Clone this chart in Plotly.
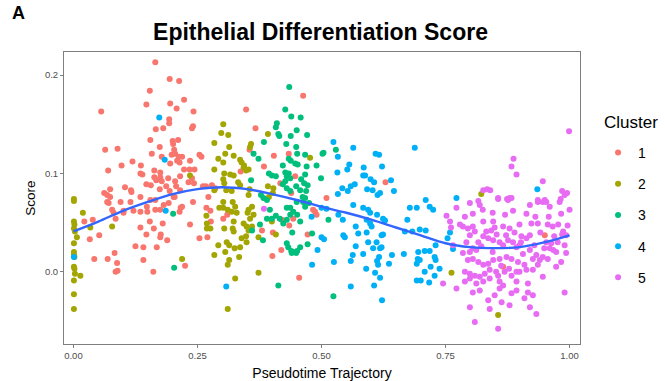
import plotly.graph_objects as go

# Cluster colours (ggplot2 default hue palette, 5 levels)
cluster_names = ["1", "2", "3", "4", "5"]
cluster_colors = ["#F8766D", "#A3A500", "#00BF7D", "#00B0F6", "#E76BF3"]

# Cluster 1
c1_x = [0.165, 0.194, 0.213, 0.154, 0.223, 0.147, 0.195, 0.208, 0.056, 0.242, 0.193, 0.193, 0.166, 0.181, 0.241,
        0.239, 0.155, 0.200, 0.211, 0.201, 0.174, 0.064, 0.089, 0.203, 0.205, 0.198, 0.212, 0.158, 0.178, 0.219,
        0.119, 0.097, 0.136, 0.209, 0.214, 0.235, 0.195, 0.070, 0.135, 0.139, 0.163, 0.175, 0.215, 0.223, 0.234,
        0.163, 0.175, 0.167, 0.178, 0.191, 0.147, 0.156, 0.104, 0.116, 0.117, 0.074, 0.062, 0.068, 0.174, 0.187,
        0.205, 0.207, 0.194, 0.202, 0.232, 0.215,
        0.022, 0.039, 0.033, 0.052, 0.042, 0.069, 0.083, 0.088, 0.085, 0.089, 0.141, 0.161, 0.125, 0.141, 0.168,
        0.135, 0.147, 0.162, 0.176, 0.175, 0.189, 0.180, 0.154, 0.225, 0.235, 0.214, 0.216, 0.219, 0.192, 0.182,
        0.175, 0.165, 0.148, 0.149, 0.135, 0.121, 0.101, 0.101, 0.081, 0.085, 0.078, 0.071, 0.068, 0.095, 0.115,
        0.135, 0.155, 0.165, 0.204, 0.074,
        0.463, 0.348, 0.367, 0.355, 0.404, 0.434, 0.254, 0.258, 0.384, 0.337, 0.244, 0.239, 0.447, 0.417, 0.261,
        0.267, 0.279, 0.286, 0.272, 0.439, 0.243,
        0.268, 0.276, 0.241, 0.277, 0.302, 0.310, 0.254, 0.270, 0.380, 0.402, 0.420, 0.435, 0.443, 0.419, 0.401,
        0.472, 0.487, 0.490, 0.483, 0.455, 0.629, 0.510, 0.950, 0.866]
c1_y = [0.213, 0.196, 0.194, 0.184, 0.175, 0.170, 0.171, 0.166, 0.163, 0.163, 0.155, 0.151, 0.145, 0.146, 0.148,
        0.146, 0.134, 0.133, 0.134, 0.130, 0.127, 0.124, 0.125, 0.124, 0.120, 0.119, 0.117, 0.120, 0.117, 0.117,
        0.112, 0.108, 0.108, 0.113, 0.111, 0.113, 0.110, 0.103, 0.100, 0.099, 0.103, 0.101, 0.097, 0.104, 0.104,
        0.096, 0.096, 0.093, 0.092, 0.095, 0.089, 0.088, 0.086, 0.083, 0.081, 0.084, 0.080, 0.078, 0.084, 0.087,
        0.092, 0.087, 0.082, 0.076, 0.091, 0.083,
        0.051, 0.053, 0.033, 0.037, 0.013, 0.013, 0.019, 0.009, 0.000, 0.001, 0.012, 0.000, 0.026, 0.025, 0.025,
        0.045, 0.038, 0.044, 0.038, 0.035, 0.032, 0.049, 0.051, 0.006, 0.048, 0.061, 0.065, 0.066, 0.070, 0.068,
        0.063, 0.063, 0.066, 0.061, 0.061, 0.062, 0.062, 0.060, 0.060, 0.054, 0.063, 0.070, 0.071, 0.071, 0.071,
        0.076, 0.073, 0.073, 0.076, 0.076,
        0.179, 0.165, 0.146, 0.124, 0.118, 0.120, 0.119, 0.117, 0.107, 0.102, 0.104, 0.095, 0.097, 0.090, 0.087,
        0.087, 0.088, 0.085, 0.076, 0.080, 0.090,
        0.065, 0.062, 0.071, 0.051, 0.054, 0.058, 0.034, 0.035, 0.042, 0.040, 0.053, 0.047, 0.054, 0.022, 0.016,
        0.038, 0.061, 0.058, 0.063, -0.006, 0.091, 0.075, 0.037, 0.005]

# Cluster 2
c2_x = [0.001, 0.235,
        0.001, 0.019, 0.001, 0.002, 0.001, 0.003, 0.034, 0.078, 0.007, 0.001, 0.001, 0.001, 0.002, 0.001, 0.002,
        0.003, 0.014, 0.001, 0.001, 0.001, 0.219,
        0.302, 0.298, 0.312, 0.392, 0.284, 0.314, 0.358, 0.356, 0.477, 0.306, 0.323, 0.292, 0.302, 0.336, 0.339,
        0.344, 0.353, 0.348, 0.343, 0.284, 0.304, 0.316, 0.323, 0.302, 0.304, 0.332, 0.336, 0.392, 0.403, 0.402,
        0.394, 0.284, 0.308, 0.319, 0.355, 0.353,
        0.302, 0.321, 0.302, 0.294, 0.311, 0.319, 0.329, 0.326, 0.268, 0.269, 0.276, 0.269, 0.323, 0.304, 0.321,
        0.323, 0.343, 0.349, 0.353, 0.360, 0.356, 0.351, 0.363, 0.360, 0.353, 0.292, 0.309, 0.314, 0.325, 0.336,
        0.339, 0.348, 0.349, 0.373, 0.284, 0.306, 0.314, 0.311, 0.334, 0.326, 0.373, 0.311, 0.400, 0.408,
        0.762, 0.822, 0.856]
c2_y = [0.074, 0.098,
        0.072, 0.060, 0.051, 0.048, 0.044, 0.041, 0.045, 0.046, 0.035, 0.029, 0.020, 0.017, 0.015, 0.005, 0.003,
        -0.002, -0.004, -0.009, -0.023, -0.038, 0.013,
        0.150, 0.141, 0.139, 0.140, 0.131, 0.127, 0.130, 0.127, 0.116, 0.120, 0.118, 0.115, 0.111, 0.114, 0.111,
        0.108, 0.104, 0.103, 0.106, 0.104, 0.100, 0.099, 0.098, 0.094, 0.090, 0.091, 0.088, 0.087, 0.085, 0.080,
        0.076, 0.083, 0.083, 0.082, 0.084, 0.078,
        0.071, 0.071, 0.065, 0.065, 0.063, 0.061, 0.060, 0.066, 0.057, 0.049, 0.044, 0.044, 0.051, 0.044, 0.044,
        0.041, 0.049, 0.046, 0.042, 0.046, 0.054, 0.060, 0.058, 0.066, 0.063, 0.027, 0.030, 0.027, 0.024, 0.025,
        0.034, 0.036, 0.030, 0.035, 0.017, 0.020, 0.012, 0.007, 0.015, -0.007, -0.001, -0.038, 0.051, 0.038,
        -0.001, 0.079, -0.044]

# Cluster 3
c3_x = [0.201, 0.203,
        0.435, 0.427, 0.439, 0.458, 0.410, 0.408, 0.413, 0.415, 0.450, 0.438, 0.471, 0.384, 0.429, 0.449, 0.363,
        0.373, 0.451, 0.467, 0.502, 0.434, 0.438, 0.447, 0.452, 0.422, 0.470, 0.490, 0.394, 0.400, 0.408, 0.427,
        0.434, 0.430, 0.437, 0.427, 0.422, 0.459, 0.467, 0.499, 0.358, 0.378, 0.383, 0.430, 0.437, 0.449, 0.457,
        0.469, 0.465, 0.472, 0.462, 0.467,
        0.390, 0.396, 0.390, 0.400, 0.408, 0.416, 0.423, 0.430, 0.437, 0.443, 0.451, 0.430, 0.437, 0.450, 0.463,
        0.467, 0.475, 0.376, 0.382, 0.360, 0.441, 0.457, 0.430, 0.433, 0.439, 0.443, 0.451, 0.457, 0.449, 0.440,
        0.472, 0.481, 0.413,
        0.504, 0.529, 0.514, 0.524]
c3_y = [0.059, 0.004,
        0.188, 0.165, 0.158, 0.157, 0.151, 0.147, 0.140, 0.138, 0.144, 0.138, 0.139, 0.132, 0.130, 0.127, 0.120,
        0.115, 0.120, 0.119, 0.120, 0.115, 0.113, 0.110, 0.109, 0.108, 0.107, 0.108, 0.100, 0.098, 0.097, 0.101,
        0.100, 0.097, 0.095, 0.092, 0.089, 0.094, 0.099, 0.095, 0.093, 0.078, 0.075, 0.085, 0.082, 0.087, 0.083,
        0.082, 0.090, 0.088, 0.076, 0.075,
        0.073, 0.063, 0.054, 0.054, 0.057, 0.054, 0.049, 0.053, 0.058, 0.061, 0.058, 0.065, 0.065, 0.071, 0.071,
        0.066, 0.070, 0.048, 0.032, 0.042, 0.040, 0.051, 0.029, 0.025, 0.021, 0.020, 0.021, 0.025, 0.019, 0.019,
        0.028, 0.039, -0.014,
        0.121, 0.124, 0.053, -0.025]

# Cluster 4
c4_x = [0.173, 0.184, 0.186, 0.001, 0.308, 0.481, 0.492, 0.500, 0.500, 0.480,
        0.524, 0.688, 0.564, 0.533, 0.609, 0.616, 0.556, 0.552, 0.585, 0.622, 0.532, 0.584, 0.588, 0.599, 0.606,
        0.640, 0.567, 0.559, 0.542, 0.553, 0.592, 0.603, 0.646, 0.533, 0.613, 0.618, 0.710,
        0.510, 0.534, 0.543, 0.564, 0.584, 0.594, 0.598, 0.591, 0.598, 0.601, 0.612, 0.624, 0.628, 0.505, 0.544,
        0.547, 0.569, 0.574, 0.591, 0.594, 0.611, 0.621, 0.624, 0.569, 0.604, 0.618, 0.621, 0.563, 0.584, 0.642,
        0.666, 0.616, 0.612, 0.614, 0.636, 0.525, 0.559, 0.590, 0.608, 0.618, 0.559, 0.606, 0.622,
        0.678, 0.692, 0.718, 0.725, 0.673, 0.668, 0.683, 0.698, 0.710, 0.730, 0.754, 0.759, 0.695, 0.708, 0.718,
        0.694, 0.692, 0.698, 0.720, 0.728, 0.730, 0.738, 0.728, 0.708, 0.692, 0.700, 0.717, 0.765, 0.935, 0.772]
c4_y = [0.157, 0.114, 0.062, 0.015, -0.015, 0.007, 0.022, 0.035, 0.065, 0.056,
        0.132, 0.126, 0.126, 0.117, 0.120, 0.119, 0.109, 0.104, 0.106, 0.107, 0.101, 0.098, 0.098, 0.094, 0.091,
        0.093, 0.089, 0.087, 0.085, 0.082, 0.084, 0.083, 0.082, 0.079, 0.078, 0.080, 0.073,
        0.064, 0.058, 0.053, 0.068, 0.065, 0.063, 0.060, 0.053, 0.049, 0.046, 0.058, 0.054, 0.052, 0.033, 0.037,
        0.035, 0.046, 0.039, 0.040, 0.030, 0.030, 0.037, 0.038, 0.026, 0.024, 0.024, 0.025, 0.017, 0.018, 0.017,
        0.018, 0.015, 0.011, 0.007, 0.008, 0.010, 0.011, 0.003, -0.001, -0.006, -0.015, -0.014, -0.029,
        0.065, 0.065, 0.066, 0.063, 0.053, 0.041, 0.041, 0.043, 0.042, 0.027, 0.034, 0.040, 0.020, 0.021, 0.021,
        0.013, 0.008, 0.012, 0.005, 0.015, 0.012, 0.003, -0.004, 0.000, -0.009, -0.009, -0.011, 0.023, 0.084, 0.075]

# Cluster 5
c5_x = [0.999, 0.887, 0.883, 0.893, 0.946, 0.826, 0.834, 0.840, 0.856, 0.879, 0.874, 0.936, 0.950, 0.985, 0.995,
        0.982, 0.384, 0.752, 0.759, 0.761, 0.745, 0.765,
        0.772, 0.799, 0.819, 0.816, 0.856, 0.876, 0.883, 0.936, 0.946, 0.953, 0.980, 0.990, 1.000, 0.983, 0.960,
        0.920, 0.913, 0.886, 0.846, 0.826, 0.805, 0.789, 0.785, 0.795, 0.805, 0.799, 0.809, 0.832, 0.842, 0.849,
        0.866, 0.879, 0.899, 0.923, 0.936, 0.956, 0.966, 0.977, 0.987, 0.993, 0.953, 0.963, 0.960, 0.967, 0.973,
        0.990, 0.993, 0.983, 0.973, 0.956, 0.946, 0.933, 0.926, 0.920, 0.899, 0.893, 0.913, 0.920, 0.903, 0.886,
        0.876, 0.866, 0.859, 0.846, 0.836, 0.826, 0.816, 0.805, 0.799, 0.785, 0.795, 0.805, 0.816, 0.826, 0.836,
        0.846, 0.859, 0.873, 0.883, 0.896, 0.909, 0.926, 0.936, 0.913, 0.899, 0.893, 0.883, 0.869, 0.852, 0.839,
        0.829, 0.819, 0.809, 0.799, 0.789, 0.789, 0.799, 0.812, 0.826, 0.839, 0.856, 0.859, 0.866, 0.859, 0.849,
        0.836, 0.819, 0.805, 0.799, 0.809, 0.839, 0.863, 0.883, 0.893, 0.893, 0.916, 0.916, 0.926, 0.909, 0.920,
        0.933, 0.946, 0.990, 0.856, 0.772, 0.879,
        0.779, 0.792, 0.812, 0.822, 0.845, 0.853, 0.872, 0.889, 0.906, 0.929, 0.941, 0.949, 0.969, 0.976, 0.996,
        0.862, 0.878, 0.902, 0.931, 0.958, 0.870, 0.845, 0.825, 0.940, 0.985]
c5_y = [0.143, 0.115, 0.107, 0.099, 0.092, 0.083, 0.084, 0.083, 0.075, 0.075, 0.074, 0.073, 0.073, 0.082, 0.080,
        0.074, 0.064, 0.057, 0.051, 0.045, -0.012, 0.027,
        0.065, 0.070, 0.068, 0.072, 0.074, 0.073, 0.075, 0.071, 0.071, 0.071, 0.071, 0.078, 0.063, 0.059, 0.066,
        0.068, 0.059, 0.062, 0.051, 0.051, 0.059, 0.056, 0.046, 0.044, 0.046, 0.037, 0.041, 0.041, 0.042, 0.045,
        0.046, 0.044, 0.048, 0.049, 0.049, 0.048, 0.046, 0.048, 0.041, 0.037, 0.030, 0.029, 0.024, 0.022, 0.020,
        0.027, 0.019, 0.010, 0.005, 0.013, 0.015, 0.017, 0.013, 0.022, 0.027, 0.025, 0.034, 0.037, 0.036, 0.030,
        0.032, 0.027, 0.030, 0.032, 0.034, 0.036, 0.030, 0.024, 0.020, 0.019, 0.012, 0.013, 0.010, 0.007, 0.008,
        0.012, 0.013, 0.015, 0.013, 0.010, 0.007, 0.002, 0.007, 0.002, 0.000, 0.000, -0.004, 0.000, 0.000, 0.002,
        -0.002, -0.005, -0.004, -0.002, 0.000, -0.010, -0.007, -0.012, -0.010, -0.007, -0.004, -0.010, -0.014, -0.017, -0.024,
        -0.029, -0.019, -0.021, -0.036, -0.051, -0.038, -0.031, -0.022, -0.019, -0.010, -0.012, -0.021, -0.024, -0.027, -0.036,
        -0.043, -0.005, -0.021, -0.058, -0.017, -0.034,
        0.048, 0.030, 0.022, 0.026, 0.020, 0.038, 0.037, 0.040, 0.018, 0.027, 0.040, 0.024, 0.036, 0.030, 0.047,
        0.006, 0.003, 0.030, 0.056, 0.056, 0.058, 0.060, 0.063, 0.012, 0.038]

# Smoothed trend along pseudotime
trend_x = [0.00, 0.05, 0.10, 0.15, 0.20, 0.25, 0.30, 0.35, 0.40, 0.45, 0.50,
           0.55, 0.60, 0.65, 0.70, 0.75, 0.80, 0.85, 0.90, 0.95, 1.00]
trend_y = [0.041, 0.051, 0.062, 0.071, 0.079, 0.084, 0.086, 0.084, 0.079, 0.073, 0.066,
           0.060, 0.053, 0.045, 0.037, 0.029, 0.025, 0.024, 0.025, 0.030, 0.037]

x_ticks = [0.0, 0.25, 0.5, 0.75, 1.0]
x_tick_labels = ["0.00", "0.25", "0.50", "0.75", "1.00"]
y_ticks = [0.0, 0.1, 0.2]
y_tick_labels = ["0.0", "0.1", "0.2"]

FONT = "Liberation Sans, Arial, Helvetica, sans-serif"

fig = go.Figure()

series = [(c1_x, c1_y), (c2_x, c2_y), (c3_x, c3_y), (c4_x, c4_y), (c5_x, c5_y)]
for name, color, (xs, ys) in zip(cluster_names, cluster_colors, series):
    fig.add_trace(go.Scatter(
        x=xs, y=ys, mode="markers", name=name, legendgroup=name,
        marker=dict(color=color, size=6, line=dict(width=0)),
    ))

fig.add_trace(go.Scatter(
    x=trend_x, y=trend_y, mode="lines", showlegend=False,
    line=dict(color="#3366FF", width=2.4, shape="spline", smoothing=1.0),
    hoverinfo="skip",
))

fig.update_layout(
    width=665, height=381,
    margin=dict(l=64, r=85, t=52, b=37),
    paper_bgcolor="white", plot_bgcolor="white",
    font=dict(family=FONT, color="black"),
    title=dict(text="<b>Epithelial Differentiation Score</b>", x=0.482, xanchor="center",
               y=0.916, yanchor="middle", font=dict(size=23, color="black")),
    legend=dict(
        x=1.035, xanchor="left", y=0.709, yanchor="top",
        font=dict(size=14), tracegroupgap=10, itemsizing="trace",
        bgcolor="rgba(0,0,0,0)",
    ),
    annotations=[
        dict(text="<b>A</b>", xref="paper", yref="paper", x=-0.105, y=1.135,
             xanchor="left", yanchor="middle", showarrow=False,
             font=dict(size=18, color="black")),
        dict(text="Cluster", xref="paper", yref="paper", x=1.0426, y=0.757,
             xanchor="left", yanchor="middle", showarrow=False,
             font=dict(size=17, color="black")),
    ],
)

fig.update_xaxes(
    range=[-0.019, 1.021], tickvals=x_ticks, ticktext=x_tick_labels,
    showgrid=False, zeroline=False, automargin=False,
    showline=True, linecolor="#7F7F7F", linewidth=1, mirror=True,
    ticks="outside", ticklen=3, tickcolor="#7F7F7F",
    tickfont=dict(size=9.5, color="#4D4D4D"),
    title=dict(text="Pseudotime Trajectory", font=dict(size=14, color="black"), standoff=8),
)
fig.update_yaxes(
    range=[-0.0735, 0.2235], tickvals=y_ticks, ticktext=y_tick_labels,
    showgrid=False, zeroline=False, automargin=False,
    showline=True, linecolor="#7F7F7F", linewidth=1, mirror=True,
    ticks="outside", ticklen=3, tickcolor="#7F7F7F",
    tickfont=dict(size=9.5, color="#4D4D4D"),
    title=dict(text="Score", font=dict(size=13.5, color="black"), standoff=6),
)

fig.write_html("out.html")
